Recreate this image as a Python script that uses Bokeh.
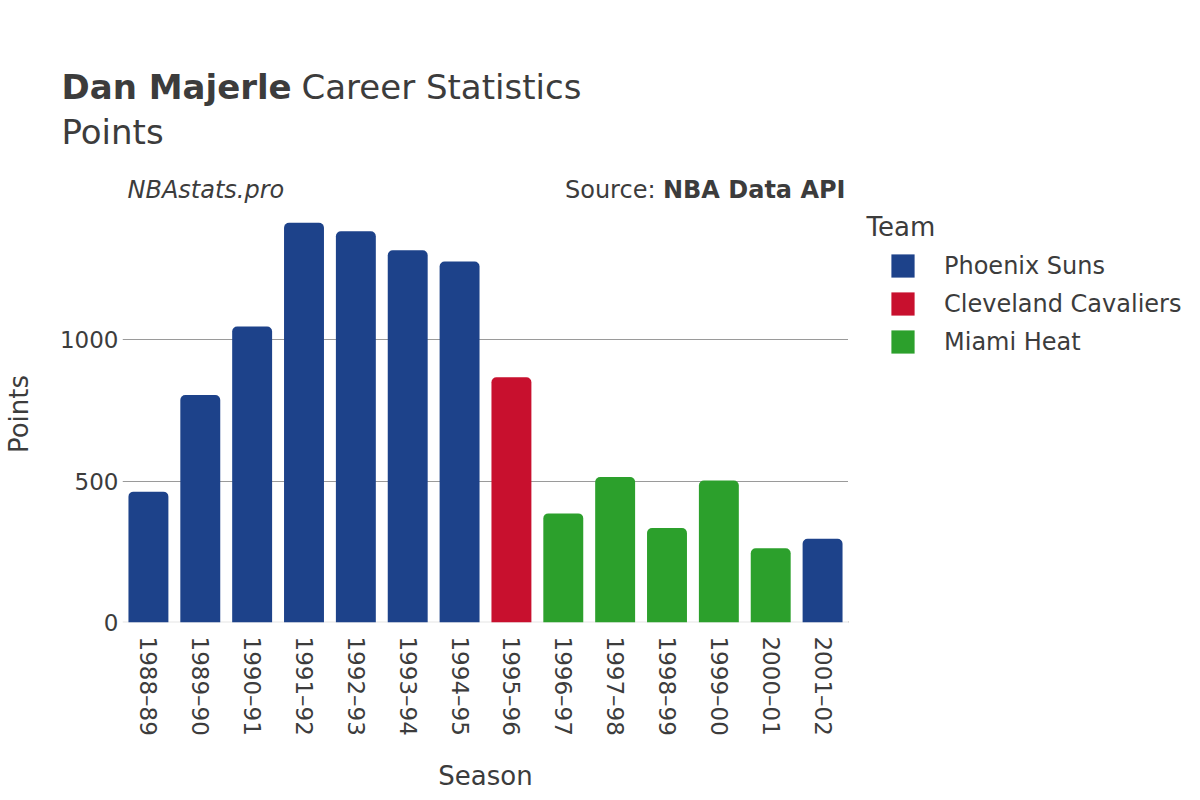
import math
from bokeh.plotting import figure
from bokeh.layouts import column, row
from bokeh.models import (ColumnDataSource, FactorRange, Range1d, FixedTicker, Label,
                          Legend, LegendItem, Span)
from bokeh.embed import file_html
from bokeh.resources import INLINE

seasons = ["1988–89", "1989–90", "1990–91", "1991–92", "1992–93", "1993–94", "1994–95",
           "1995–96", "1996–97", "1997–98", "1998–99", "1999–00", "2000–01", "2001–02"]
points = [463, 805, 1047, 1414, 1384, 1317, 1277, 868, 386, 515, 334, 502, 263, 296]
teams = ["Phoenix Suns"] * 7 + ["Cleveland Cavaliers"] + ["Miami Heat"] * 5 + ["Phoenix Suns"]
team_order = ["Phoenix Suns", "Cleveland Cavaliers", "Miami Heat"]
team_colors = {"Phoenix Suns": "#1D428A", "Cleveland Cavaliers": "#C8102E", "Miami Heat": "#2CA02C"}
y_ticks = [0, 500, 1000]

TXT = "#3c3c3c"
FONT = "DejaVu Sans"
HEAD_H = 205
MAIN_W = 848
MAIN_H = 800 - HEAD_H
BOT = 178
FRAME_BOTTOM = 800 - BOT          # 622
Y_END = 1440 * (FRAME_BOTTOM - HEAD_H) / 407.0


def blank_fig(w, h, top=0, bottom=0):
    f = figure(width=w, height=h, x_range=Range1d(0, w), y_range=Range1d(0, h - top - bottom),
               output_backend="svg", toolbar_location=None, tools="",
               x_axis_type=None, y_axis_type=None, min_border=0,
               min_border_top=top, min_border_bottom=bottom)
    f.outline_line_color = None
    f.xgrid.visible = False
    f.ygrid.visible = False
    f.background_fill_color = "white"
    f.border_fill_color = "white"
    return f


def lab(f, text, x, y, size, style="normal", align="left"):
    # y is the wanted baseline; small lift compensates the svg baseline offset
    px = float(size.replace("px", ""))
    f.add_layout(Label(text=text, x=x, y=y + 0.38 * px, text_font=FONT, text_font_size=size,
                       text_font_style=style, text_color=TXT, text_align=align,
                       text_baseline="alphabetic"))


# ---- header ----
head = blank_fig(1200, HEAD_H)
lab(head, "Dan Majerle", 61, HEAD_H - 99.5, "34px", "bold")
lab(head, "Career Statistics", 301, HEAD_H - 99.5, "34px")
lab(head, "Points", 61, HEAD_H - 144, "34px")
lab(head, "NBAstats.pro", 127, HEAD_H - 199, "24px", "italic")
lab(head, "Source:", 655, HEAD_H - 199, "24px", align="right")
lab(head, "NBA Data API", 845, HEAD_H - 199, "24px", "bold", align="right")

# ---- main chart ----
p = figure(width=MAIN_W, height=MAIN_H, x_range=FactorRange(*seasons, range_padding=0),
           y_range=Range1d(0, Y_END), output_backend="svg", toolbar_location=None, tools="",
           min_border_left=122, min_border_right=0, min_border_top=0, min_border_bottom=BOT)
p.outline_line_color = None
p.background_fill_color = "white"
p.border_fill_color = "white"

p.xgrid.grid_line_color = None
p.ygrid.grid_line_color = "#9a9a9a"
p.ygrid.grid_line_width = 1
p.ygrid.ticker = FixedTicker(ticks=[500, 1000])

p.add_layout(Span(location=0, dimension="width", line_color="#e6e6e6", line_width=2,
                  level="underlay"))

for t in team_order:
    xs = [s for s, tm in zip(seasons, teams) if tm == t]
    ys = [v for v, tm in zip(points, teams) if tm == t]
    src = ColumnDataSource(dict(x=xs, top=ys))
    p.vbar(x="x", top="top", width=0.77, bottom=0, source=src, fill_color=team_colors[t],
           line_color=None, border_radius=(5, 5, 0, 0))

for ax in (p.xaxis, p.yaxis):
    ax.axis_line_color = None
    ax.major_tick_line_color = None
    ax.minor_tick_line_color = None
    ax.major_tick_out = 0
    ax.major_tick_in = 0
    ax.minor_tick_out = 0
    ax.minor_tick_in = 0
    ax.major_label_text_font = FONT
    ax.major_label_text_font_size = "23px"
    ax.major_label_text_color = TXT
    ax.axis_label_text_font = FONT
    ax.axis_label_text_font_size = "26px"
    ax.axis_label_text_font_style = "normal"
    ax.axis_label_text_color = TXT

p.yaxis.ticker = FixedTicker(ticks=y_ticks)
p.yaxis.major_label_standoff = 4
p.yaxis.axis_label = "Points"
p.yaxis.axis_label_standoff = 23

p.xaxis.major_label_orientation = -math.pi / 2
p.xaxis.major_label_standoff = 14
p.xaxis.axis_label = "Season"
p.xaxis.axis_label_standoff = 22

# ---- legend panel ----
leg = blank_fig(1200 - MAIN_W, MAIN_H, top=0, bottom=BOT)
lab(leg, "Team", 18, FRAME_BOTTOM - 236, "26px")
items = []
for t in team_order:
    r = leg.vbar(x=[-500], top=[1], width=1, fill_color=team_colors[t], line_color=None,
                 border_radius=4)
    items.append(LegendItem(label=t, renderers=[r]))
legend = Legend(items=items, location=(40, 266), orientation="vertical", padding=0, margin=0,
                border_line_color=None, background_fill_alpha=0,
                glyph_width=29, glyph_height=29, label_height=23, spacing=9,
                label_standoff=27, label_text_font=FONT, label_text_font_size="24px",
                label_text_color=TXT, label_text_baseline="middle")
leg.add_layout(legend, "center")

layout = column(head, row(p, leg, spacing=0), spacing=0)
open("out.html", "w").write(file_html(layout, INLINE))
